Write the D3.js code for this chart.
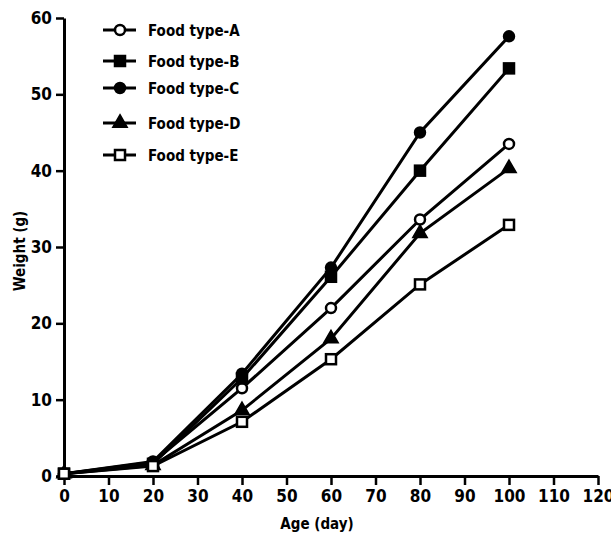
<!DOCTYPE html>
<html>
<head>
<meta charset="utf-8">
<script src="https://cdn.jsdelivr.net/npm/d3@7"></script>
<style>
  body { margin: 0; background: #fff; }
  text { font-family: "DejaVu Sans Condensed", "DejaVu Sans", sans-serif; font-weight: bold; font-stretch: condensed; }
</style>
</head>
<body>
<div id="chart"></div>
<script>
  // Data
  var ages = [0, 20, 40, 60, 80, 100];
  var foodA = [0.3, 1.8, 11.5, 22.0, 33.6, 43.5];
  var foodB = [0.3, 1.6, 12.8, 26.1, 40.0, 53.4];
  var foodC = [0.3, 1.9, 13.4, 27.3, 45.0, 57.6];
  var foodD = [0.3, 1.4, 8.6, 18.0, 31.8, 40.3];
  var foodE = [0.3, 1.3, 7.1, 15.3, 25.1, 32.9];
  var seriesNames = ["Food type-A", "Food type-B", "Food type-C", "Food type-D", "Food type-E"];
  var markers = ["circleOpen", "squareFilled", "circleFilled", "triangle", "squareOpen"];
  var xTicks = d3.range(0, 121, 10);
  var yTicks = [0, 10, 20, 30, 40, 50, 60];

  var series = [foodA, foodB, foodC, foodD, foodE].map(function(vals, i) {
    return {
      name: seriesNames[i],
      marker: markers[i],
      points: vals.map(function(v, j) { return { x: ages[j], y: v }; })
    };
  });

  var width = 611, height = 537;
  var margin = { left: 64, right: 13, top: 18, bottom: 61 };

  var svg = d3.select("#chart").append("svg")
    .attr("width", width)
    .attr("height", height);

  var x = d3.scaleLinear().domain([0, 120]).range([margin.left, width - margin.right]);
  var y = d3.scaleLinear().domain([0, 60]).range([height - margin.bottom, margin.top]);

  // Axes
  var xAxis = svg.append("g")
    .attr("transform", "translate(0," + (height - margin.bottom) + ")")
    .call(d3.axisBottom(x).tickValues(xTicks).tickSize(9).tickSizeOuter(0).tickPadding(5));
  var yAxis = svg.append("g")
    .attr("transform", "translate(" + margin.left + ",0)")
    .call(d3.axisLeft(y).tickValues(yTicks).tickSize(8).tickSizeOuter(0).tickPadding(4));

  [xAxis, yAxis].forEach(function(ax) {
    ax.select(".domain").attr("stroke", "#000").attr("stroke-width", 3);
    ax.selectAll(".tick line").attr("stroke", "#000").attr("stroke-width", 2.5);
    ax.selectAll(".tick text")
      .attr("fill", "#000")
      .attr("font-size", "17px")
      .attr("font-family", "DejaVu Sans Condensed, DejaVu Sans, sans-serif")
      .attr("font-weight", "bold");
  });

  svg.append("text")
    .attr("x", 317)
    .attr("y", 529)
    .attr("text-anchor", "middle")
    .attr("font-size", "15px")
    .text("Age (day)");

  svg.append("text")
    .attr("transform", "translate(25,251) rotate(-90)")
    .attr("text-anchor", "middle")
    .attr("font-size", "15px")
    .text("Weight (g)");

  // Marker drawing
  function drawMarker(g, type) {
    if (type === "circleOpen" || type === "circleFilled") {
      g.append("circle").attr("r", 5)
        .attr("fill", type === "circleFilled" ? "#000" : "#fff")
        .attr("stroke", "#000").attr("stroke-width", 2.5);
    } else if (type === "squareOpen" || type === "squareFilled") {
      g.append("rect").attr("x", -5).attr("y", -5).attr("width", 10).attr("height", 10)
        .attr("fill", type === "squareFilled" ? "#000" : "#fff")
        .attr("stroke", "#000").attr("stroke-width", 2.5);
    } else if (type === "triangle") {
      g.append("path")
        .attr("d", d3.symbol().type(d3.symbolTriangle).size(90)())
        .attr("fill", "#000").attr("stroke", "#000").attr("stroke-width", 1.5);
    }
  }

  var line = d3.line()
    .x(function(d) { return x(d.x); })
    .y(function(d) { return y(d.y); });

  svg.selectAll(".series-line")
    .data(series)
    .enter()
    .append("path")
    .attr("class", "series-line")
    .attr("d", function(d) { return line(d.points); })
    .attr("fill", "none")
    .attr("stroke", "#000")
    .attr("stroke-width", 3);

  series.forEach(function(s) {
    s.points.forEach(function(p) {
      var g = svg.append("g").attr("transform", "translate(" + x(p.x) + "," + y(p.y) + ")");
      drawMarker(g, s.marker);
    });
  });

  // Legend
  var legendY = [30, 61, 88, 123, 155];
  series.forEach(function(s, i) {
    var lg = svg.append("g").attr("transform", "translate(103," + legendY[i] + ")");
    lg.append("line").attr("x1", 0).attr("x2", 33).attr("y1", 0).attr("y2", 0)
      .attr("stroke", "#000").attr("stroke-width", 3);
    var m = lg.append("g").attr("transform", "translate(17,0)");
    drawMarker(m, s.marker);
    lg.append("text")
      .attr("x", 45)
      .attr("y", 6)
      .attr("font-size", "15px")
      .text(s.name);
  });
</script>
</body>
</html>
